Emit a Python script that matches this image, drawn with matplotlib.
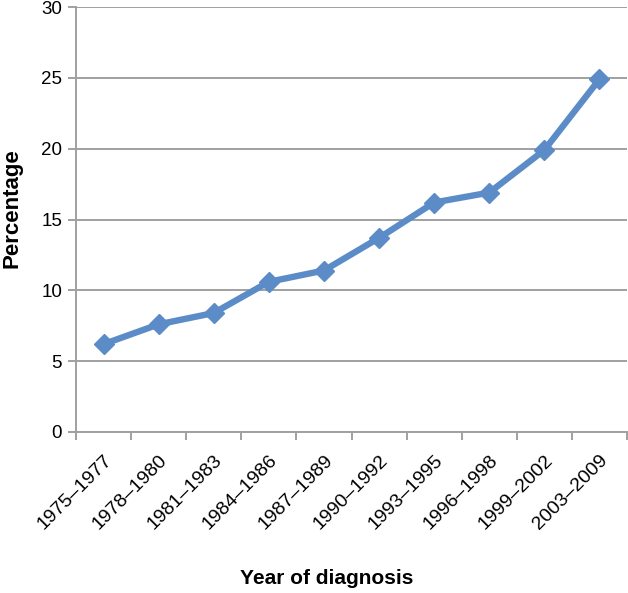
import matplotlib
matplotlib.use("Agg")
import matplotlib.pyplot as plt
import numpy as np

categories = ["1975–1977", "1978–1980", "1981–1983", "1984–1986", "1987–1989",
              "1990–1992", "1993–1995", "1996–1998", "1999–2002", "2003–2009"]
values = [6.2, 7.6, 8.4, 10.6, 11.4, 13.7, 16.2, 16.9, 19.9, 24.9]
yticks = [0, 5, 10, 15, 20, 25, 30]

plt.rcParams['font.family'] = ['Liberation Sans', 'DejaVu Sans']

fig = plt.figure(figsize=(6.28, 5.93), dpi=100)
ax = fig.add_axes([76/628, (593-432)/593, (627-76)/628, (432-7)/593])

x = np.arange(len(categories))
ax.plot(x, values, color='#5B8CC8', lw=4.6, marker='D', ms=10, mfc='#5B8CC8', mec='#5B8CC8', zorder=3, solid_joinstyle='round')

ax.set_xlim(-0.5, len(categories) - 0.5)
ax.set_ylim(0, 30)
ax.set_yticks(yticks)
ax.yaxis.grid(True, color='#A0A0A0', lw=1.4)
ax.set_axisbelow(True)

ax.set_xticks(np.arange(len(categories) + 1) - 0.5)
ax.set_xticklabels([])
ax.set_xticks(x, minor=True)
ax.set_xticklabels(categories, minor=True, rotation=45, ha='right', va='top', rotation_mode='anchor', fontsize=14)
ax.tick_params(axis='x', which='minor', length=0, pad=14)
ax.tick_params(axis='x', which='major', length=6, width=1.4, color='#A0A0A0')
ax.tick_params(axis='y', length=6, width=1.4, color='#A0A0A0', labelsize=13.5, pad=4)

for s in ['top', 'right']:
    ax.spines[s].set_visible(False)
for s in ['left', 'bottom']:
    ax.spines[s].set_color('#A0A0A0')
    ax.spines[s].set_linewidth(1.4)

fig.text(12/628, 1 - 208/593, 'Percentage', rotation=90, ha='center', va='center', fontsize=16, fontweight='bold')
fig.text(327/628, 1 - 578/593, 'Year of diagnosis', ha='center', va='center', fontsize=15, fontweight='bold')

fig.savefig('out.png', dpi=100)
